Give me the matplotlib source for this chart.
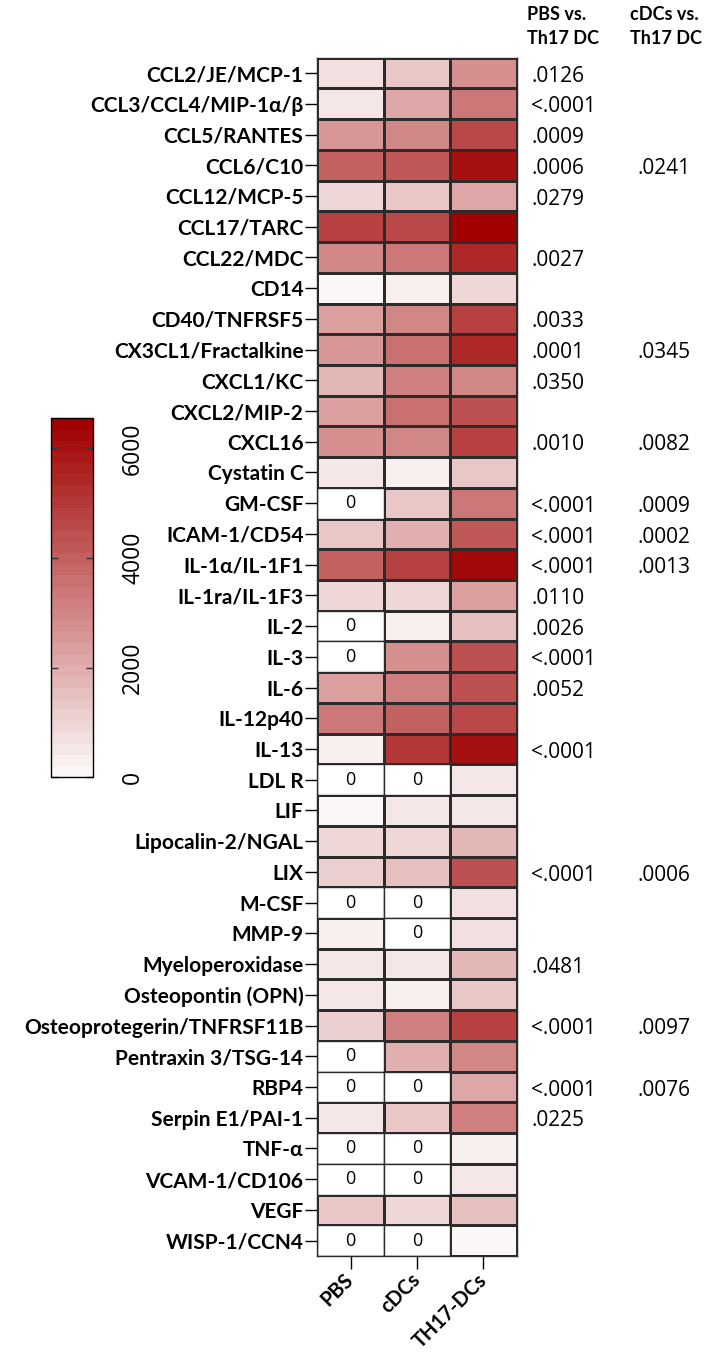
import numpy as np
import matplotlib
matplotlib.use("Agg")
import matplotlib.pyplot as plt
from matplotlib.colors import LinearSegmentedColormap, Normalize

plt.rcParams['font.family'] = ['Lato', 'DejaVu Sans']

analytes = ["CCL2/JE/MCP-1", "CCL3/CCL4/MIP-1\u03b1/\u03b2", "CCL5/RANTES", "CCL6/C10",
            "CCL12/MCP-5", "CCL17/TARC", "CCL22/MDC", "CD14", "CD40/TNFRSF5",
            "CX3CL1/Fractalkine", "CXCL1/KC", "CXCL2/MIP-2", "CXCL16", "Cystatin C",
            "GM-CSF", "ICAM-1/CD54", "IL-1\u03b1/IL-1F1", "IL-1ra/IL-1F3", "IL-2", "IL-3",
            "IL-6", "IL-12p40", "IL-13", "LDL R", "LIF", "Lipocalin-2/NGAL", "LIX",
            "M-CSF", "MMP-9", "Myeloperoxidase", "Osteopontin (OPN)",
            "Osteoprotegerin/TNFRSF11B", "Pentraxin 3/TSG-14", "RBP4",
            "Serpin E1/PAI-1", "TNF-\u03b1", "VCAM-1/CD106", "VEGF", "WISP-1/CCN4"]

groups = ["PBS", "cDCs", "TH17-DCs"]

# mean concentrations read off the colour scale (0 = not detected)
pbs = [800, 500, 2600, 3900, 900, 4800, 3000, 100, 2300, 2600, 1800, 2400, 2800, 500,
       0, 1300, 3900, 1000, 0, 0, 2400, 3400, 350, 0, 150, 950, 1200, 0, 400, 600,
       450, 1200, 0, 0, 550, 0, 0, 1250, 0]
cdcs = [1300, 2200, 2900, 4100, 1300, 4700, 3400, 350, 3000, 3500, 3200, 3500, 3000, 350,
        1300, 1900, 4800, 1000, 400, 2800, 3100, 3900, 5000, 0, 550, 950, 1500, 0, 0, 500,
        350, 3200, 1900, 0, 1400, 0, 0, 1000, 0]
th17 = [2700, 3300, 4700, 6100, 2100, 6500, 5500, 1000, 4800, 5400, 2900, 4500, 4800, 1300,
        3400, 4100, 6200, 2400, 1500, 4300, 4500, 4700, 6100, 500, 550, 1700, 4500, 750, 750, 1700,
        1400, 4800, 3000, 2100, 3200, 400, 450, 1500, 150]

p_pbs = [".0126", "<.0001", ".0009", ".0006", ".0279", "", ".0027", "", ".0033", ".0001",
         ".0350", "", ".0010", "", "<.0001", "<.0001", "<.0001", ".0110", ".0026", "<.0001",
         ".0052", "", "<.0001", "", "", "", "<.0001", "", "", ".0481",
         "", "<.0001", "", "<.0001", ".0225", "", "", "", ""]
p_cdcs = ["", "", "", ".0241", "", "", "", "", "", ".0345",
          "", "", ".0082", "", ".0009", ".0002", ".0013", "", "", "",
          "", "", "", "", "", "", ".0006", "", "", "",
          "", ".0097", "", ".0076", "", "", "", "", ""]

cbar_ticks = [0, 2000, 4000, 6000]
vmax = 6550

W, H = 708, 1355
fig = plt.figure(figsize=(W / 100, H / 100), dpi=100)
num_font = ["Open Sans", "DejaVu Sans"]
edge = "#2b2b2b"

# heatmap
ax = fig.add_axes([317.3 / W, 1 - 1256 / H, (516.7 - 317.3) / W, (1256 - 57.7) / H])
data = np.array([pbs, cdcs, th17]).T
masked = np.ma.masked_equal(data, 0)
cmap = LinearSegmentedColormap.from_list("reds", ["#fbf7f7", "#a00000"], N=32)
n = len(analytes)
mesh = ax.pcolormesh(np.arange(4), np.arange(n + 1), masked, cmap=cmap,
                     norm=Normalize(0, vmax), edgecolors=edge, linewidth=1.0)
for i in range(n):
    for j in range(3):
        if data[i, j] == 0:
            ax.add_patch(plt.Rectangle((j, i), 1, 1, facecolor="white",
                                       edgecolor=edge, linewidth=1.0))
            ax.text(j + 0.5, i + 0.5, "0", ha="center", va="center", fontsize=13,
                    family=num_font)
ax.set_xlim(0, 3)
ax.set_ylim(n, 0)
ax.set_yticks(np.arange(n) + 0.5)
ax.set_yticklabels(analytes, fontsize=15, fontweight="bold")
ax.set_xticks(np.arange(3) + 0.5)
ax.set_xticklabels(groups, fontsize=14.5, fontweight="bold", rotation=45,
                   ha="right", va="center", rotation_mode="anchor")
ax.tick_params(axis="y", length=9, width=1, pad=1)
ax.tick_params(axis="x", length=9, width=1, pad=6)
for s in ax.spines.values():
    s.set_linewidth(1.0)
    s.set_color(edge)

# p-value columns
for i in range(n):
    if p_pbs[i]:
        ax.text(3.22, i + 0.6, p_pbs[i], ha="left", va="center", fontsize=15,
                family=num_font, clip_on=False)
    if p_cdcs[i]:
        ax.text(4.82, i + 0.6, p_cdcs[i], ha="left", va="center", fontsize=15,
                family=num_font, clip_on=False)
fig.text(527 / W, 1 - 6 / H, "PBS vs.\nTh17 DC", ha="left", va="top", fontsize=13,
         fontweight="bold", linespacing=1.5)
fig.text(630 / W, 1 - 6 / H, "cDCs vs.\nTh17 DC", ha="left", va="top", fontsize=13,
         fontweight="bold", linespacing=1.5)

# colorbar
cax = fig.add_axes([50.7 / W, 1 - 777.3 / H, (93.3 - 50.7) / W, (777.3 - 418.3) / H])
cb = fig.colorbar(mesh, cax=cax, ticks=cbar_ticks)
cb.outline.set_linewidth(1.0)
cax.tick_params(direction="in", left=True, right=True, length=5, width=1,
                color="#333333", labelsize=16.5, pad=20)
for t in cax.get_yticklabels():
    t.set_rotation(90)
    t.set_va("center")
    t.set_family(num_font)

fig.savefig("out.png", dpi=100)
